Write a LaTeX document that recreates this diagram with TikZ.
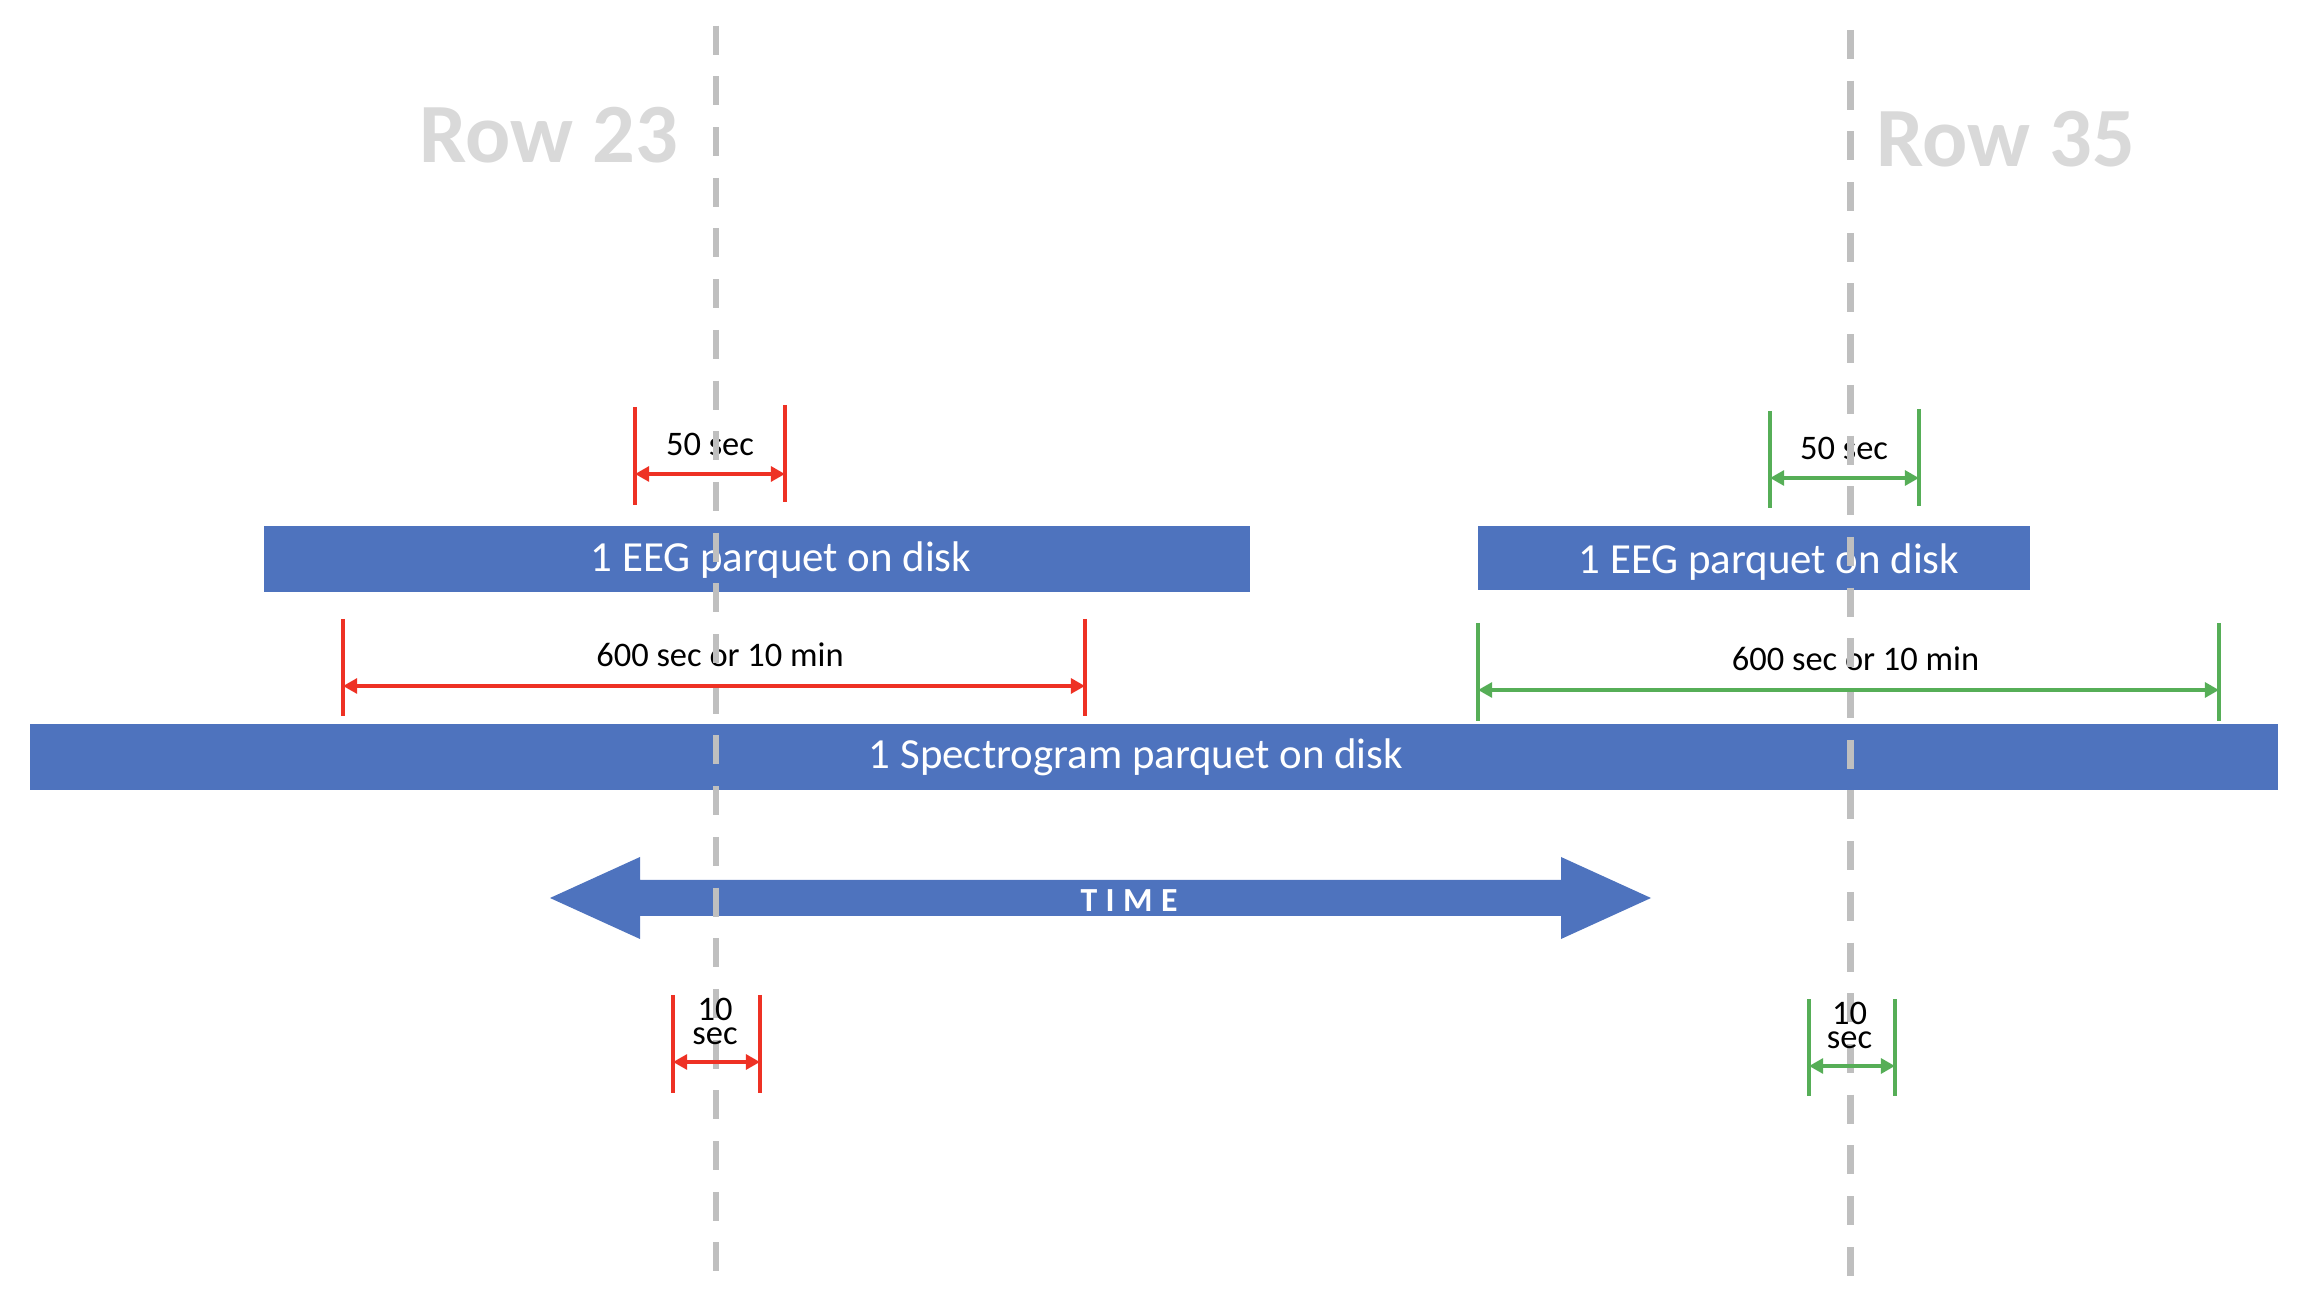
\documentclass[tikz,border=0pt]{standalone}
\usepackage{fontspec}
\setmainfont{Carlito}
\usetikzlibrary{arrows.meta}
\definecolor{barblue}{HTML}{4E73BE}
\definecolor{markred}{HTML}{EE3124}
\definecolor{markgreen}{HTML}{56AE57}
\definecolor{dashgray}{HTML}{BFBFBF}
\definecolor{rowgray}{HTML}{D9D9D9}
\tikzset{
  bar/.style={fill=barblue, draw=none, inner sep=0pt},
  bartext/.style={text=white, font=\fontsize{12.2}{14}\selectfont, anchor=base, inner sep=0pt},
  rowtext/.style={text=rowgray, font=\bfseries\fontsize{24}{28}\selectfont, anchor=base, inner sep=0pt},
  marktext/.style={font=\fontsize{9.8}{11}\selectfont, anchor=base, inner sep=0pt},
  smalltext/.style={font=\fontsize{9.8}{7}\selectfont, align=center, anchor=north, inner sep=0pt},
  redtick/.style={draw=markred, line width=0.9pt},
  greentick/.style={draw=markgreen, line width=0.9pt},
  dimtips/.style={line width=1.05pt, {Triangle[length=4pt,width=4.2pt]}-{Triangle[length=4pt,width=4.2pt]}},
  rowline/.style={draw=dashgray, line width=1.9pt, dash pattern=on 0.29cm off 0.217cm}
}

\begin{document}
\begin{tikzpicture}
\useasboundingbox (0,0) rectangle (23,-12.94);

% row labels
\node[rowtext] (row23) at (5.49,-1.625) {Row 23};
\node[rowtext] (row35) at (20.06,-1.67) {Row 35};

% parquet bars
\node[bar, minimum width=9.86cm, minimum height=0.66cm] (eeg23) at (7.57,-5.59) {};
\node[bar, minimum width=5.52cm, minimum height=0.64cm] (eeg35) at (17.54,-5.58) {};
\node[bar, minimum width=22.48cm, minimum height=0.66cm] (spec) at (11.54,-7.57) {};
\node[bartext] (eeg23txt) at (7.81,-5.72) {1 EEG parquet on disk};
\node[bartext] (eeg35txt) at (17.69,-5.74) {1 EEG parquet on disk};
\node[bartext] (spectxt) at (11.36,-7.69) {1 Spectrogram parquet on disk};

% time arrow
\fill[barblue] (5.50,-8.98) -- (6.40,-8.57) -- (6.40,-8.80) -- (15.61,-8.80)
  -- (15.61,-8.57) -- (16.51,-8.98) -- (15.61,-9.39) -- (15.61,-9.16)
  -- (6.40,-9.16) -- (6.40,-9.39) -- cycle;
\node[anchor=base, inner sep=0pt, text=white, font=\bfseries\fontsize{9.6}{11}\selectfont] (time) at (11.29,-9.12) {T\kern2.4pt I\kern2.4pt M\kern2.4pt E};

% red marks, row 23
\draw[redtick] (6.35,-4.07) -- (6.35,-5.05);
\draw[redtick] (7.85,-4.05) -- (7.85,-5.025);
\coordinate (r50a) at (6.35,-4.74);
\coordinate (r50b) at (7.85,-4.74);
\node[marktext] (r50txt) at (7.10,-4.56) {50 sec};

\draw[redtick] (3.43,-6.19) -- (3.43,-7.16);
\draw[redtick] (10.85,-6.19) -- (10.85,-7.16);
\coordinate (r600a) at (3.43,-6.86);
\coordinate (r600b) at (10.85,-6.86);
\node[marktext] (r600txt) at (7.20,-6.67) {600 sec or 10 min};

\draw[redtick] (6.73,-9.95) -- (6.73,-10.93);
\draw[redtick] (7.60,-9.95) -- (7.60,-10.93);
\coordinate (r10a) at (6.73,-10.62);
\coordinate (r10b) at (7.60,-10.62);

% green marks, row 35
\draw[greentick] (17.70,-4.11) -- (17.70,-5.08);
\draw[greentick] (19.19,-4.09) -- (19.19,-5.06);
\coordinate (g50a) at (17.70,-4.78);
\coordinate (g50b) at (19.19,-4.78);
\node[marktext] (g50txt) at (18.44,-4.60) {50 sec};

\draw[greentick] (14.78,-6.23) -- (14.78,-7.21);
\draw[greentick] (22.19,-6.23) -- (22.19,-7.21);
\coordinate (g600a) at (14.78,-6.90);
\coordinate (g600b) at (22.19,-6.90);
\node[marktext] (g600txt) at (18.555,-6.705) {600 sec or 10 min};

\draw[greentick] (18.09,-9.99) -- (18.09,-10.96);
\draw[greentick] (18.95,-9.99) -- (18.95,-10.96);
\coordinate (g10a) at (18.09,-10.66);
\coordinate (g10b) at (18.95,-10.66);

% row lines
\coordinate (row23top) at (7.16,-0.257);
\coordinate (row23bot) at (7.16,-12.74);
\coordinate (row35top) at (18.505,-0.30);
\coordinate (row35bot) at (18.505,-12.78);
\draw[rowline] (row23top) -- (row23bot);
\draw[rowline] (row35top) -- (row35bot);

% arrows and small labels above the row lines
\draw[redtick, dimtips] (r50a) -- (r50b);
\draw[redtick, dimtips] (r600a) -- (r600b);
\draw[redtick, dimtips] (r10a) -- (r10b);
\draw[greentick, dimtips] (g50a) -- (g50b);
\draw[greentick, dimtips] (g600a) -- (g600b);
\draw[greentick, dimtips] (g10a) -- (g10b);
\node[smalltext] (r10txt) at (7.15,-9.97) {10\\sec};
\node[smalltext] (g10txt) at (18.495,-10.01) {10\\sec};
\end{tikzpicture}
\end{document}
